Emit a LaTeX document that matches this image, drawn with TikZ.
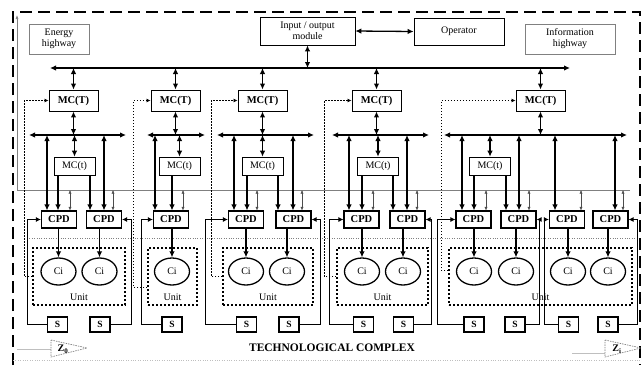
\documentclass[tikz,border=0pt]{standalone}
\usepackage{fontspec}
\setmainfont{Liberation Serif}
\usepackage{tikz}
\usetikzlibrary{
	arrows.meta,
	positioning,
	calc,
	shapes.geometric
}
\usepackage{xcolor}

\begin{document}
\begin{tikzpicture}[x=1pt,y=-1pt,
	hwbox/.style={draw=gray,line width=0.8pt,minimum height=30pt,inner sep=0pt,align=center,font=\fontsize{10}{11}\selectfont},
	iobox/.style={draw,line width=0.7pt,inner sep=0pt,align=center,font=\fontsize{10}{11}\selectfont},
	mcbig/.style={draw,line width=0.9pt,minimum width=49pt,minimum height=21pt,inner sep=0pt,font=\fontsize{10.5}{10}\selectfont\bfseries},
	mcsmall/.style={draw,line width=0.6pt,minimum width=41pt,minimum height=18pt,inner sep=0pt,font=\fontsize{10}{10}\selectfont},
	cpdbox/.style={draw,line width=1.1pt,minimum width=35pt,minimum height=17pt,inner sep=0pt,font=\fontsize{10.5}{10}\selectfont\bfseries},
	cinode/.style={draw,ellipse,line width=1.3pt,minimum width=35pt,minimum height=27pt,inner sep=0pt,font=\fontsize{10}{10}\selectfont},
	sbox/.style={draw,line width=1.1pt,minimum width=20pt,minimum height=15pt,inner sep=0pt,font=\fontsize{9.5}{10}\selectfont\bfseries},
	unitbox/.style={draw,line width=1.1pt,dash pattern=on 2pt off 2pt,minimum height=57pt,inner sep=0pt},
	unitlbl/.style={anchor=south,font=\fontsize{10}{10}\selectfont},
	darr/.style={line width=1.3pt,{Latex[length=6pt,width=5.5pt]}-{Latex[length=6pt,width=5.5pt]}},
	sarr/.style={line width=1.3pt,-{Latex[length=6pt,width=5.5pt]}},
	tarr/.style={line width=0.5pt,gray!60!black,{Latex[length=3.5pt,width=3pt]}-{Latex[length=3.5pt,width=3pt]}},
	fback/.style={line width=1pt,-{Latex[length=5pt,width=5pt]}},
	feed/.style={line width=0.9pt,dash pattern=on 1.5pt off 1.5pt,-{Latex[length=4pt,width=4pt]}},
	zmark/.style={draw=gray,line width=0.7pt,dash pattern=on 1.5pt off 1pt}
	]
	\useasboundingbox (0,0) rectangle (644,365);
	
	% Frame of the complex
	\draw[line width=1.8pt,dash pattern=on 12pt off 6pt] (13,365) -- (13,12) -- (640,12) -- (640,365);
	\draw[gray!50,dotted] (13,360) -- (640,360);
	
	% Information line
	\coordinate (infoL) at (17,190);
	\coordinate (infoR) at (630,190);
	\coordinate (infoT) at (17,15);
	\draw[gray,line width=0.6pt,-{Latex[length=4pt,width=3pt]}] (infoR) -- (infoL) -- (infoT);
	\draw[gray,dotted] (27,238) -- (635,238);
	
	% Top level
	\node[hwbox,minimum width=60pt] (energy) at (59,39) {Energy\\highway};
	\node[iobox,minimum width=95pt,minimum height=28pt] (io) at (307.5,31) {Input / output\\module};
	\node[iobox,minimum width=90pt,minimum height=27pt] (oper) at (459,31.5) {Operator};
	\node[hwbox,minimum width=90pt] (info) at (570,39) {Information\\highway};
	\draw[darr] (io.east) -- (oper.west);
	
	% Main bus
	\coordinate (busL) at (50,68);
	\coordinate (busR) at (570,68);
	\draw[darr] (busL) -- (busR);
	\draw[darr] (io.south) -- (io.south |- busL);
	
	% MC(T)
	\node[mcbig] (mcT1) at (73.5,100.5) {MC(T)};
	\node[mcbig] (mcT2) at (175.5,100.5) {MC(T)};
	\node[mcbig] (mcT3) at (262.5,100.5) {MC(T)};
	\node[mcbig] (mcT4) at (376.5,100.5) {MC(T)};
	\node[mcbig] (mcT5) at (540.5,100.5) {MC(T)};
	\draw[darr] (mcT1.north) -- (mcT1.north |- busL);
	\draw[darr] (mcT2.north) -- (mcT2.north |- busL);
	\draw[darr] (mcT3.north) -- (mcT3.north |- busL);
	\draw[darr] (mcT4.north) -- (mcT4.north |- busL);
	\draw[darr] (mcT5.north) -- (mcT5.north |- busL);
	
	% Local buses
	\coordinate (sb1a) at (29,135);  \coordinate (sb1b) at (126,135);
	\coordinate (sb2a) at (147,135); \coordinate (sb2b) at (205,135);
	\coordinate (sb3a) at (217,135); \coordinate (sb3b) at (314,135);
	\coordinate (sb4a) at (332,135); \coordinate (sb4b) at (429,135);
	\coordinate (sb5a) at (444,135); \coordinate (sb5b) at (627,135);
	\draw[darr] (sb1a) -- (sb1b);
	\draw[darr] (sb2a) -- (sb2b);
	\draw[darr] (sb3a) -- (sb3b);
	\draw[darr] (sb4a) -- (sb4b);
	\draw[darr] (sb5a) -- (sb5b);
	\draw[darr] (mcT1.south) -- (mcT1.south |- sb1a);
	\draw[darr] (mcT2.south) -- (mcT2.south |- sb2a);
	\draw[darr] (mcT3.south) -- (mcT3.south |- sb3a);
	\draw[darr] (mcT4.south) -- (mcT4.south |- sb4a);
	\draw[darr] (mcT5.south) -- (mcT5.south |- sb5a);
	
	% MC(t)
	\node[mcsmall] (mct1) at (74.5,166) {MC(t)};
	\node[mcsmall] (mct2) at (179.5,166) {MC(t)};
	\node[mcsmall] (mct3) at (262.5,166) {MC(t)};
	\node[mcsmall] (mct4) at (378,166) {MC(t)};
	\node[mcsmall] (mct5) at (490,166) {MC(t)};
	\draw[darr] (mct1.north) -- (mct1.north |- sb1a);
	\draw[darr] (mct2.north) -- (mct2.north |- sb2a);
	\draw[darr] (mct3.north) -- (mct3.north |- sb3a);
	\draw[darr] (mct4.north) -- (mct4.north |- sb4a);
	\draw[darr] (mct5.north) -- (mct5.north |- sb5a);
	
	% CPD
	\node[cpdbox] (cpd1a) at (59,219.5) {CPD};
	\node[cpdbox] (cpd1b) at (104,219.5) {CPD};
	\node[cpdbox] (cpd2) at (171,219.5) {CPD};
	\node[cpdbox] (cpd3a) at (246,219.5) {CPD};
	\node[cpdbox] (cpd3b) at (293.5,219.5) {CPD};
	\node[cpdbox] (cpd4a) at (361.5,219.5) {CPD};
	\node[cpdbox] (cpd4b) at (407.5,219.5) {CPD};
	\node[cpdbox] (cpd5a) at (473.5,219.5) {CPD};
	\node[cpdbox] (cpd5b) at (518.5,219.5) {CPD};
	\node[cpdbox] (cpd5c) at (567,219.5) {CPD};
	\node[cpdbox] (cpd5d) at (610.5,219.5) {CPD};
	
	% bus to CPD
	\draw[darr] (47,0 |- sb1a) -- (47,0 |- cpd1a.north);
	\draw[darr] (104,0 |- sb1a) -- (104,0 |- cpd1b.north);
	\draw[darr] (155,0 |- sb2a) -- (155,0 |- cpd2.north);
	\draw[darr] (234,0 |- sb3a) -- (234,0 |- cpd3a.north);
	\draw[darr] (293,0 |- sb3a) -- (293,0 |- cpd3b.north);
	\draw[darr] (349,0 |- sb4a) -- (349,0 |- cpd4a.north);
	\draw[darr] (407,0 |- sb4a) -- (407,0 |- cpd4b.north);
	\draw[darr] (462,0 |- sb5a) -- (462,0 |- cpd5a.north);
	\draw[darr] (519,0 |- sb5a) -- (519,0 |- cpd5b.north);
	\draw[darr] (555,0 |- sb5a) -- (555,0 |- cpd5c.north);
	\draw[darr] (615,0 |- sb5a) -- (615,0 |- cpd5d.north);
	
	% MC(t) to CPD
	\draw[sarr] (58,0 |- mct1.south) -- (58,0 |- cpd1a.north);
	\draw[sarr] (90,0 |- mct1.south) -- (90,0 |- cpd1b.north);
	\draw[sarr] (172,0 |- mct2.south) -- (172,0 |- cpd2.north);
	\draw[sarr] (247,0 |- mct3.south) -- (247,0 |- cpd3a.north);
	\draw[sarr] (278,0 |- mct3.south) -- (278,0 |- cpd3b.north);
	\draw[sarr] (362,0 |- mct4.south) -- (362,0 |- cpd4a.north);
	\draw[sarr] (393,0 |- mct4.south) -- (393,0 |- cpd4b.north);
	\draw[sarr] (474,0 |- mct5.south) -- (474,0 |- cpd5a.north);
	\draw[sarr] (506,0 |- mct5.south) -- (506,0 |- cpd5b.north);
	
	% information line to CPD
	\draw[tarr] (70,0 |- infoL) -- (70,0 |- cpd1a.north);
	\draw[tarr] (113,0 |- infoL) -- (113,0 |- cpd1b.north);
	\draw[tarr] (183,0 |- infoL) -- (183,0 |- cpd2.north);
	\draw[tarr] (257,0 |- infoL) -- (257,0 |- cpd3a.north);
	\draw[tarr] (302,0 |- infoL) -- (302,0 |- cpd3b.north);
	\draw[tarr] (373,0 |- infoL) -- (373,0 |- cpd4a.north);
	\draw[tarr] (417,0 |- infoL) -- (417,0 |- cpd4b.north);
	\draw[tarr] (486,0 |- infoL) -- (486,0 |- cpd5a.north);
	\draw[tarr] (529,0 |- infoL) -- (529,0 |- cpd5b.north);
	\draw[tarr] (581,0 |- infoL) -- (581,0 |- cpd5c.north);
	\draw[tarr] (623,0 |- infoL) -- (623,0 |- cpd5d.north);
	
	% Units
	\node[unitbox,minimum width=92pt] (unit1) at (79,276.5) {};
	\node[unitbox,minimum width=49pt] (unit2) at (172.5,276.5) {};
	\node[unitbox,minimum width=90pt] (unit3) at (268,276.5) {};
	\node[unitbox,minimum width=91pt] (unit4) at (382.5,276.5) {};
	\node[unitbox,minimum width=183pt] (unit5) at (540.5,276.5) {};
	\node[unitlbl] at ([yshift=1pt]unit1.south) {Unit};
	\node[unitlbl] at ([yshift=1pt]unit2.south) {Unit};
	\node[unitlbl] at ([yshift=1pt]unit3.south) {Unit};
	\node[unitlbl] at ([yshift=1pt]unit4.south) {Unit};
	\node[unitlbl] at ([yshift=1pt]unit5.south) {Unit};
	
	% Ci
	\node[cinode] (ci1a) at (58.5,271.5) {Ci};
	\node[cinode] (ci1b) at (99.5,271.5) {Ci};
	\node[cinode] (ci2) at (172,271.5) {Ci};
	\node[cinode] (ci3a) at (246,271.5) {Ci};
	\node[cinode] (ci3b) at (287,271.5) {Ci};
	\node[cinode] (ci4a) at (362,271.5) {Ci};
	\node[cinode] (ci4b) at (403,271.5) {Ci};
	\node[cinode] (ci5a) at (474,271.5) {Ci};
	\node[cinode] (ci5b) at (516,271.5) {Ci};
	\node[cinode] (ci5c) at (568,271.5) {Ci};
	\node[cinode] (ci5d) at (608,271.5) {Ci};
	\draw[sarr] (ci1a.north |- cpd1a.south) -- (ci1a.north);
	\draw[sarr] (ci1b.north |- cpd1b.south) -- (ci1b.north);
	\draw[sarr] (ci2.north |- cpd2.south) -- (ci2.north);
	\draw[sarr] (ci3a.north |- cpd3a.south) -- (ci3a.north);
	\draw[sarr] (ci3b.north |- cpd3b.south) -- (ci3b.north);
	\draw[sarr] (ci4a.north |- cpd4a.south) -- (ci4a.north);
	\draw[sarr] (ci4b.north |- cpd4b.south) -- (ci4b.north);
	\draw[sarr] (ci5a.north |- cpd5a.south) -- (ci5a.north);
	\draw[sarr] (ci5b.north |- cpd5b.south) -- (ci5b.north);
	\draw[sarr] (ci5c.north |- cpd5c.south) -- (ci5c.north);
	\draw[sarr] (ci5d.north |- cpd5d.south) -- (ci5d.north);
	
	% Sensors
	\node[sbox] (s1a) at (57.5,324.5) {S};
	\node[sbox] (s1b) at (100,324.5) {S};
	\node[sbox] (s2) at (172,324.5) {S};
	\node[sbox] (s3a) at (246.5,324.5) {S};
	\node[sbox] (s3b) at (289,324.5) {S};
	\node[sbox] (s4a) at (363.5,324.5) {S};
	\node[sbox] (s4b) at (403.5,324.5) {S};
	\node[sbox] (s5a) at (474,324.5) {S};
	\node[sbox] (s5b) at (515,324.5) {S};
	\node[sbox] (s5c) at (568.5,324.5) {S};
	\node[sbox] (s5d) at (608,324.5) {S};
	
	% Feedback
	\draw[fback] (s1a.west) -| ([xshift=-13.5pt]cpd1a.west) -- (cpd1a.west);
	\draw[fback] (s1b.east) -| ([xshift=9pt]cpd1b.east) -- (cpd1b.east);
	\draw[fback] (s2.west) -| ([xshift=-11.5pt]cpd2.west) -- (cpd2.west);
	\draw[fback] (s3a.west) -| ([xshift=-22.5pt]cpd3a.west) -- (cpd3a.west);
	\draw[fback] (s3b.east) -| ([xshift=9pt]cpd3b.east) -- (cpd3b.east);
	\draw[fback] (s4a.west) -| ([xshift=-14pt]cpd4a.west) -- (cpd4a.west);
	\draw[fback] (s4b.east) -| ([xshift=6pt]cpd4b.east) -- (cpd4b.east);
	\draw[fback] (s5a.west) -| ([xshift=-18pt]cpd5a.west) -- (cpd5a.west);
	\draw[fback] (s5b.east) -| ([xshift=3pt]cpd5b.east) -- (cpd5b.east);
	\draw[fback] (s5c.west) -| ([xshift=-4.5pt]cpd5c.west) -- (cpd5c.west);
	\draw[fback] (s5d.east) -| ([xshift=9pt]cpd5d.east) -- (cpd5d.east);
	
	% Unit to MC(T)
	\draw[feed] (unit1.west) -- ++(-8,0) |- (mcT1.west);
	\draw[feed] ([yshift=-10.5pt]unit2.west) -- ++(-14,0) |- (mcT2.west);
	\draw[feed] (unit3.west) -- ++(-11,0) |- (mcT3.west);
	\draw[feed] (unit4.west) -- ++(-12,0) |- (mcT4.west);
	\draw[feed] ([yshift=6.5pt]unit5.west) -- ++(-7,0) |- (mcT5.west);
	
	% Z marks
	\draw[gray!50] (17,349) -- (51,349);
	\draw[gray!50] (572,353) -- (605,353);
	\draw[zmark] (51,340) -- (87,348) -- (51,357) -- cycle;
	\draw[zmark] (605,340) -- (641,348) -- (605,357) -- cycle;
	\node[font=\fontsize{10}{10}\selectfont\bfseries] (z0) at (63,349) {Z\textsubscript{0}};
	\node[font=\fontsize{10}{10}\selectfont\bfseries] (zi) at (617,349) {Z\textsubscript{i}};
	
	\node[font=\fontsize{11.5}{12}\selectfont\bfseries] (tc) at (332,348) {TECHNOLOGICAL COMPLEX};
	
\end{tikzpicture}
\end{document}
